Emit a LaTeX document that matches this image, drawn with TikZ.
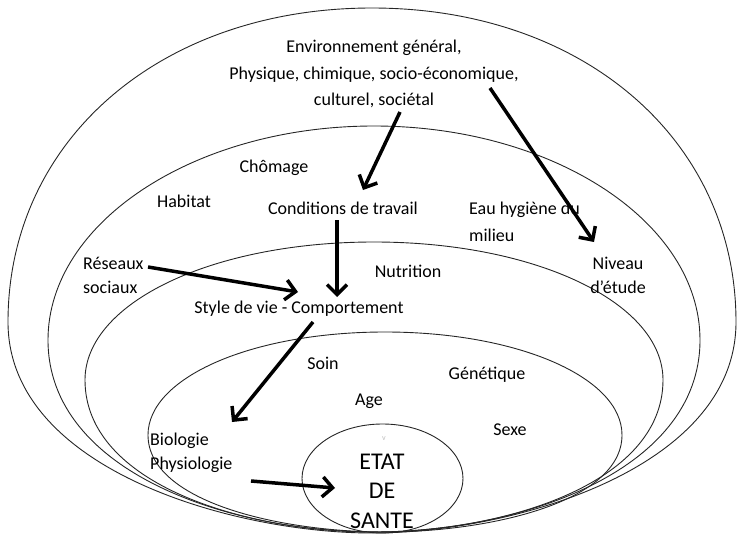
\documentclass[tikz,border=0pt]{standalone}
\usepackage{fontspec}
\setmainfont{Carlito}
\usetikzlibrary{arrows.meta}
% egg-shaped ring: cx, rx, ytop, ywide, ybottom, ktop, kvert, khoriz
\newcommand\drawegg[8]{%
  \pgfmathsetmacro\egL{#1-#2}\pgfmathsetmacro\egR{#1+#2}%
  \pgfmathsetmacro\egTa{#4-#6*(#4-#3)}%
  \pgfmathsetmacro\egTl{#1-#6*#2}\pgfmathsetmacro\egTr{#1+#6*#2}%
  \pgfmathsetmacro\egBa{#4+#7*(#5-#4)}%
  \pgfmathsetmacro\egBl{#1-#8*#2}\pgfmathsetmacro\egBr{#1+#8*#2}%
  \draw[ring] (\egL,#4) .. controls (\egL,\egTa) and (\egTl,#3) .. (#1,#3)
    .. controls (\egTr,#3) and (\egR,\egTa) .. (\egR,#4)
    .. controls (\egR,\egBa) and (\egBr,#5) .. (#1,#5)
    .. controls (\egBl,#5) and (\egL,\egBa) .. cycle;}
\begin{document}
\begin{tikzpicture}[x=1pt,y=-1pt,
  ring/.style={draw=black!85,line width=0.9pt},
  lbl/.style={font=\fontsize{18}{24}\selectfont, inner sep=0pt},
  flow/.style={line width=3.5pt,-{Straight Barb[length=10pt,width=20pt]}}]
\useasboundingbox (0,0) rectangle (737,535);
% rings
\drawegg{372}{364}{8}{322}{533}{0.58}{0.7}{0.38}
\drawegg{374}{326}{126}{340}{532}{0.55}{0.69}{0.44}
\drawegg{374}{289}{242}{380}{532}{0.56}{0.69}{0.44}
\drawegg{385}{237}{332}{435}{532}{0.56}{0.69}{0.44}
\draw[ring] (382.5,478.5) ellipse [x radius=80.5, y radius=54.5];
% labels
\node[lbl,align=center,font=\fontsize{18}{26.5}\selectfont] (env) at (374,74) {Environnement général,\\Physique, chimique, socio-économique,\\culturel, sociétal};
\node[lbl] (chomage) at (274,168) {Chômage};
\node[lbl] (habitat) at (184,201) {Habitat};
\node[lbl] (cond) at (343,208) {Conditions de travail};
\node[lbl,align=left,anchor=west,font=\fontsize{18}{27}\selectfont] (eau) at (469,221.5) {Eau hygiène du\\milieu};
\node[lbl,align=left,anchor=west] (reseaux) at (83,275) {Réseaux\\sociaux};
\node[lbl] (nutrition) at (408,271) {Nutrition};
\node[lbl,align=center] (niveau) at (618,275) {Niveau\\d’étude};
\node[lbl] (style) at (299,309) {Style de vie - Comportement};
\node[lbl] (soin) at (323,363) {Soin};
\node[lbl] (genetique) at (487,375) {Génétique};
\node[lbl] (age) at (369,401) {Age};
\node[lbl] (sexe) at (510,430) {Sexe};
\node[lbl,align=left,anchor=west] (bio) at (150,453) {Biologie\\Physiologie};
\node[inner sep=0pt,align=center,font=\fontsize{24}{29.5}\selectfont] (etat) at (382,491) {ETAT\\DE\\SANTE};
\node[inner sep=0pt,text=black!25,font=\fontsize{8}{8}\selectfont] (mark) at (384,439) {v};
% arrow end points
\coordinate (a1s) at (400,112); \coordinate (a1e) at (363,190);
\coordinate (a2s) at (490,88);  \coordinate (a2e) at (594,242);
\coordinate (a3s) at (337,220); \coordinate (a3e) at (337,297);
\coordinate (a4s) at (148,267); \coordinate (a4e) at (298,292);
\coordinate (a5s) at (313,322); \coordinate (a5e) at (232,422);
\coordinate (a6s) at (251,481); \coordinate (a6e) at (335,488);
\draw[flow] (a1s) -- (a1e);
\draw[flow] (a2s) -- (a2e);
\draw[flow] (a3s) -- (a3e);
\draw[flow] (a4s) -- (a4e);
\draw[flow] (a5s) -- (a5e);
\draw[flow] (a6s) -- (a6e);
\end{tikzpicture}
\end{document}
